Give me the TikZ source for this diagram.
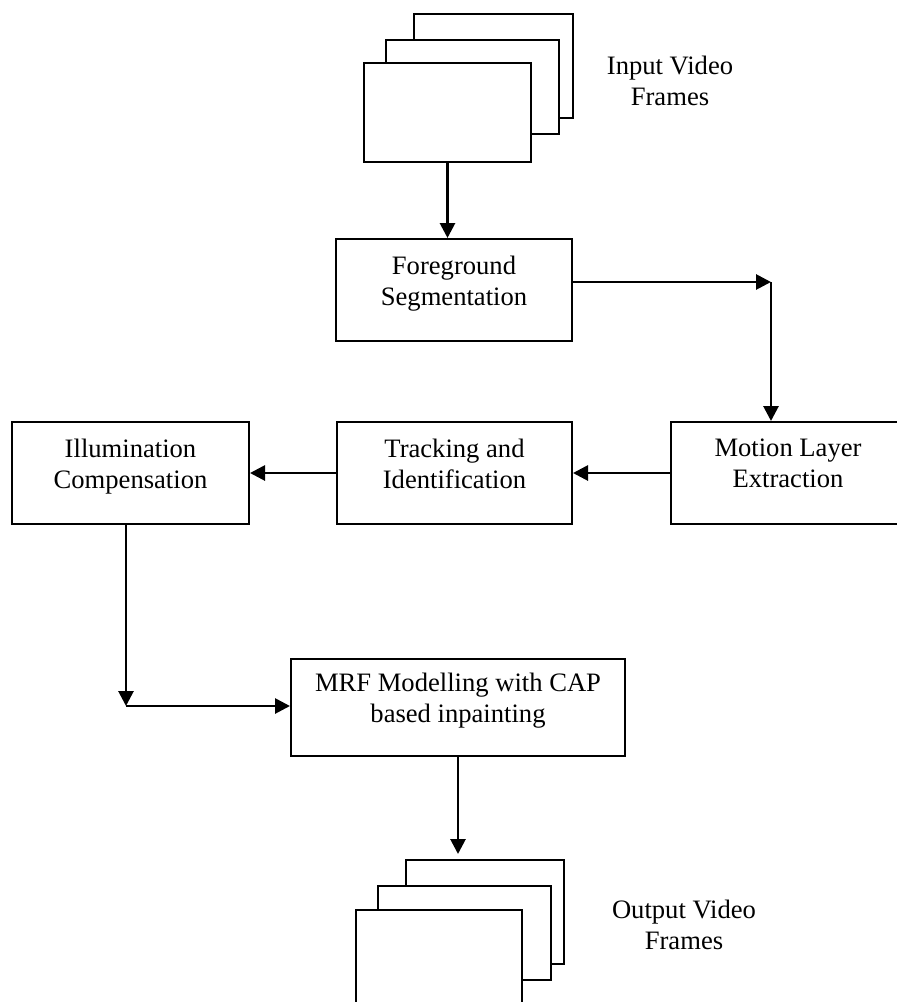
\documentclass[tikz,border=0pt]{standalone}
\usepackage{fontspec}
\setmainfont{Liberation Serif}
\usetikzlibrary{positioning,arrows.meta}

\begin{document}
\begin{tikzpicture}[x=0.5pt,y=-0.5pt,
  block/.style={draw,line width=1pt,align=center,inner sep=0pt,
    minimum height=51pt,text depth=9.5pt,font=\fontsize{13.3}{15.5}\selectfont},
  frame/.style={draw,line width=1pt,fill=white,inner sep=0pt},
  caption/.style={align=center,font=\fontsize{13.3}{15.5}\selectfont},
  arr/.style={line width=1.4pt,-{Triangle[length=7.5pt,width=7.5pt]}}]
  \useasboundingbox (0,0) rectangle (896,1002);

  % input frames
  \node[frame,minimum width=79.5pt,minimum height=52pt] (inC) at (493.5,66) {};
  \node[frame,minimum width=86.5pt,minimum height=47pt] (inB) at (472.5,87) {};
  \node[frame,minimum width=83.5pt,minimum height=49.5pt] (inA) at (447.5,112.5) {};
  \node[caption] (inlbl) at (670,81) {Input Video\\Frames};

  % processing blocks
  \node[block,minimum width=118pt] (fg) at (454,290) {Foreground\\Segmentation};
  \node[block,minimum width=117pt] (mot) at (788,473) {Motion Layer\\Extraction};
  \node[block,minimum width=117.5pt] (trk) at (454.5,473) {Tracking and\\Identification};
  \node[block,minimum width=118.5pt] (ill) at (130.5,473) {Illumination\\Compensation};
  \node[block,minimum width=167pt,minimum height=48.5pt] (mrf) at (458,707.5) {MRF Modelling with CAP\\based inpainting};

  % output frames
  \node[frame,minimum width=79pt,minimum height=52pt] (outC) at (485,912) {};
  \node[frame,minimum width=86.5pt,minimum height=47pt] (outB) at (464.5,933) {};
  \node[frame,minimum width=83pt,minimum height=54pt] (outA) at (439,964) {};
  \node[caption] (outlbl) at (684,925) {Output Video\\Frames};

  % connectors
  \coordinate (turn1) at (771,282);
  \coordinate (turn2) at (126,706);
  \coordinate (outtip) at (458,854);
  \draw[arr] (inA.south) -- (inA.south |- fg.north);
  \draw[arr] (fg.east |- turn1) -- (turn1);
  \draw[arr] (turn1) -- (turn1 |- mot.north);
  \draw[arr] (mot.west) -- (trk.east);
  \draw[arr] (trk.west) -- (ill.east);
  \draw[arr] (ill.south -| turn2) -- (turn2);
  \draw[arr] (turn2) -- (turn2 -| mrf.west);
  \draw[arr] (mrf.south) -- (outtip);
\end{tikzpicture}
\end{document}
